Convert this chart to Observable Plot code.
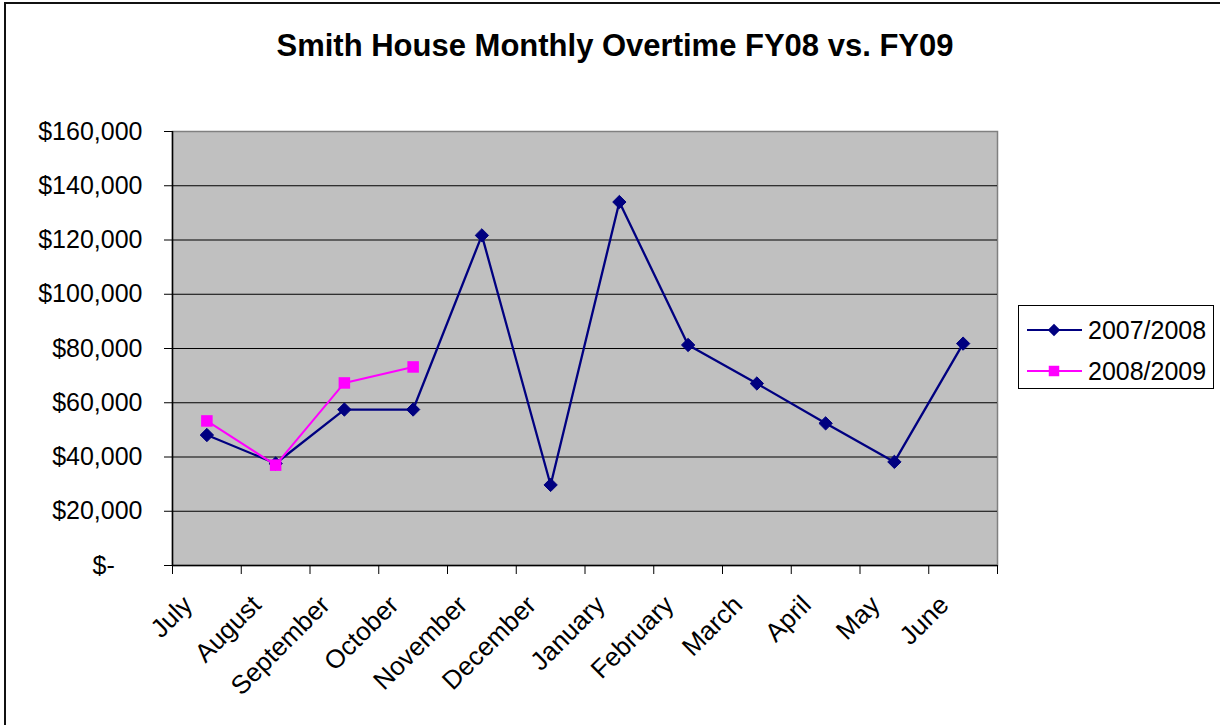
<!DOCTYPE html>
<html>
<head>
<meta charset="utf-8">
<script src="https://cdn.jsdelivr.net/npm/d3@7"></script>
<script src="https://cdn.jsdelivr.net/npm/@observablehq/plot@0.6"></script>
<style>
  html, body { margin: 0; padding: 0; background: #fff; overflow: hidden; }
  #wrap { position: relative; width: 1220px; height: 725px; overflow: hidden; font-family: "Liberation Sans", Arial, sans-serif; }
  #border { position: absolute; left: 4px; top: 2px; width: 1400px; height: 900px; border-left: 2px solid #111; border-top: 2px solid #111; }
  #title { position: relative; height: 80px; box-sizing: border-box; padding-top: 30px; line-height: 32px; font-size: 31px; font-weight: bold; text-align: center; width: 1230px; color: #000; }
  #chart { position: relative; }
  #legend { position: absolute; left: 1018px; top: 305px; width: 194px; height: 82px; border: 1px solid #000; background: #fff; }
</style>
</head>
<body>
<div id="wrap">
  <div id="border"></div>
  <div id="title"></div>
  <div id="chart"></div>
  <div id="legend"></div>
</div>
<script>
const titleText = "Smith House Monthly Overtime FY08 vs. FY09";
const months = ["July", "August", "September", "October", "November", "December",
                "January", "February", "March", "April", "May", "June"];
const fy08 = [48100, 37600, 57500, 57500, 121700, 29700, 134000, 81300, 67100, 52400, 38200, 81800];
const fy09 = [53300, 37000, 67300, 73200];
const seriesNames = ["2007/2008", "2008/2009"];
const seriesColors = ["#000080", "#FF00FF"];
const seriesSymbols = ["diamond2", "square"];
const yTicks = [0, 20000, 40000, 60000, 80000, 100000, 120000, 140000, 160000];
const gridTicks = [20000, 40000, 60000, 80000, 100000, 120000, 140000];
const xBoundaries = d3.range(months.length + 1);

document.getElementById("title").textContent = titleText;

const rows08 = fy08.map((v, i) => ({month: months[i], idx: i + 0.5, value: v}));
const rows09 = fy09.map((v, i) => ({month: months[i], idx: i + 0.5, value: v}));

const fmt = d => d === 0 ? "$-\u00a0\u00a0\u00a0\u00a0" : "$" + d3.format(",")(d);

const chart = Plot.plot({
  width: 1220,
  height: 645,
  marginLeft: 172,
  marginRight: 223,
  marginTop: 51,
  marginBottom: 160,
  style: {fontFamily: "'Liberation Sans', Arial, sans-serif", fontSize: "25px", color: "#000", background: "transparent"},
  x: {domain: [0, months.length]},
  y: {domain: [0, 160000]},
  marks: [
    Plot.frame({fill: "#C0C0C0", stroke: "#808080", strokeWidth: 1.5}),
    Plot.ruleY(gridTicks, {stroke: "#000", strokeWidth: 1.2}),
    Plot.ruleX([0], {stroke: "#000", strokeWidth: 1.5}),
    Plot.ruleY([0], {stroke: "#000", strokeWidth: 1.5}),
    Plot.axisY({ticks: yTicks, tickSize: 8, tickPadding: 22, tickFormat: fmt, fontSize: 25, label: null}),
    Plot.axisX({ticks: xBoundaries, tickSize: 9, tickFormat: () => "", label: null}),
    Plot.text(months, {x: (d, i) => i + 0.5, frameAnchor: "bottom", rotate: -45, textAnchor: "end",
                       dx: -13, dy: 41, fontSize: 26, fill: "#000"}),
    Plot.line(rows08, {x: "idx", y: "value", stroke: seriesColors[0], strokeWidth: 2.3}),
    Plot.dot(rows08, {x: "idx", y: "value", symbol: seriesSymbols[0], r: 6, fill: seriesColors[0], stroke: seriesColors[0], strokeWidth: 1}),
    Plot.line(rows09, {x: "idx", y: "value", stroke: seriesColors[1], strokeWidth: 2}),
    Plot.dot(rows09, {x: "idx", y: "value", symbol: seriesSymbols[1], r: 6.5, fill: seriesColors[1], stroke: "none"})
  ]
});
document.getElementById("chart").appendChild(chart);

// legend
const lg = d3.select("#legend").append("svg").attr("width", 194).attr("height", 82)
  .style("font-family", "'Liberation Sans', Arial, sans-serif");
seriesNames.forEach((name, i) => {
  const cy = 24 + i * 41;
  lg.append("line").attr("x1", 8).attr("x2", 63).attr("y1", cy).attr("y2", cy)
    .attr("stroke", seriesColors[i]).attr("stroke-width", 2);
  const sym = d3.symbol().type(i === 0 ? d3.symbolDiamond2 : d3.symbolSquare).size(i === 0 ? 100 : 110);
  lg.append("path").attr("d", sym()).attr("transform", `translate(35,${cy})`).attr("fill", seriesColors[i]);
  lg.append("text").attr("x", 69).attr("y", cy).attr("dy", "0.35em").attr("font-size", 25).attr("fill", "#000").text(name);
});
</script>
</body>
</html>
